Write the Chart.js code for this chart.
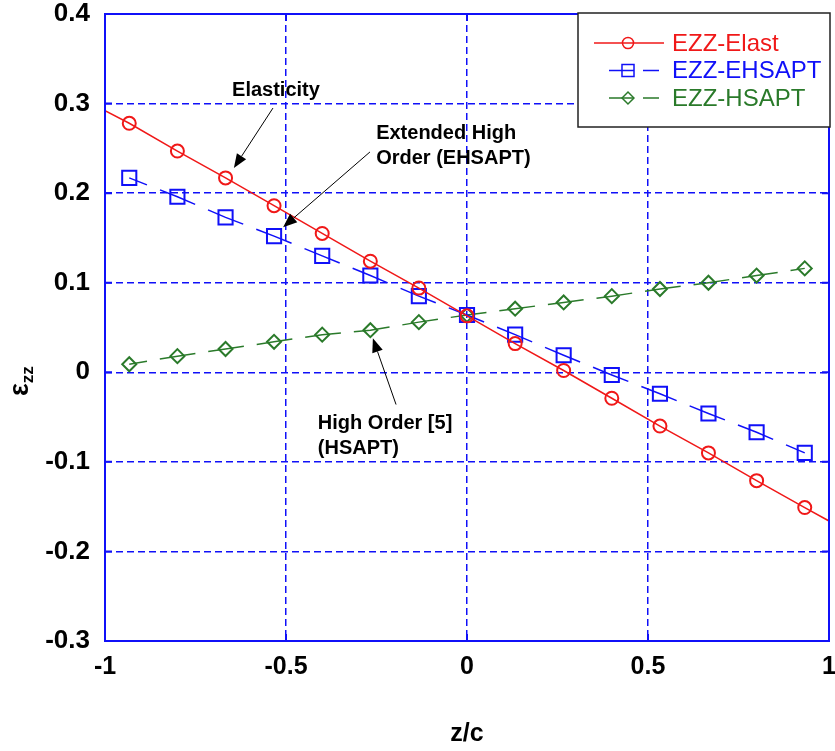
<!DOCTYPE html>
<html>
<head>
<meta charset="utf-8">
<script src="https://cdn.jsdelivr.net/npm/chart.js@4.4.0/dist/chart.umd.min.js"></script>
<style>
  html, body { margin: 0; padding: 0; background: #fff; }
  #wrap { width: 835px; height: 751px; }
</style>
</head>
<body>
<div id="wrap"><canvas id="chart" width="835" height="751"></canvas></div>
<script>
// eps_zz through the thickness, three theories
const zc = [-0.933, -0.8, -0.667, -0.533, -0.4, -0.267, -0.133, 0, 0.133, 0.267, 0.4, 0.533, 0.667, 0.8, 0.933];
const elast = [0.278, 0.247, 0.217, 0.186, 0.155, 0.124, 0.094, 0.063, 0.032, 0.002, -0.029, -0.060, -0.090, -0.121, -0.151];
const ehsapt = [0.217, 0.196, 0.173, 0.152, 0.130, 0.108, 0.085, 0.064, 0.042, 0.019, -0.003, -0.024, -0.046, -0.067, -0.090];
const hsapt = [0.009, 0.018, 0.026, 0.034, 0.042, 0.047, 0.056, 0.064, 0.071, 0.078, 0.085, 0.093, 0.100, 0.108, 0.116];

// the elasticity line runs on to both faces (no marker there)
const faceZ = [-1, 1];
const elastFace = [0.292, -0.166];

const seriesNames = ['EZZ-Elast', 'EZZ-EHSAPT', 'EZZ-HSAPT'];

const xTicks = [-1, -0.5, 0, 0.5, 1];
const yTicks = [-0.3, -0.2, -0.1, 0, 0.1, 0.2, 0.3, 0.4];

// callouts, placed in data units
const notes = [
  { lines: ['Elasticity'], at: [-0.649, 0.315], from: [-0.536, 0.295], to: [-0.644, 0.228] },
  { lines: ['Extended High', 'Order (EHSAPT)'], at: [-0.251, 0.267], from: [-0.268, 0.246], to: [-0.508, 0.162] },
  { lines: ['High Order [5]', '(HSAPT)'], at: [-0.412, -0.057], from: [-0.196, -0.036], to: [-0.260, 0.038] }
];

const BLUE = '#1010f8';
const RED = '#f01818';
const GREEN = '#2a7a2a';
const FONT = '"Liberation Sans", Arial, sans-serif';

const pts = (xs, ys) => xs.map((v, i) => ({ x: v, y: ys[i] }));
const fmt = v => String(Number(v.toFixed(1)));

const redData = [{ x: faceZ[0], y: elastFace[0] }, ...pts(zc, elast), { x: faceZ[1], y: elastFace[1] }];

const styles = [
  { color: RED, point: 'circle', radius: 6.5, dash: [] },
  { color: BLUE, point: 'rect', radius: 10, dash: [38, 14], dashOffset: 19 },
  { color: GREEN, point: 'rectRot', radius: 7, dash: [36, 13], dashOffset: 18 }
];

function marker(ctx, style, x, y) {
  const r = style.radius;
  ctx.beginPath();
  if (style.point === 'circle') {
    ctx.arc(x, y, r, 0, Math.PI * 2);
  } else if (style.point === 'rect') {
    const s = r * Math.SQRT1_2;
    ctx.rect(x - s, y - s, 2 * s, 2 * s);
  } else {
    ctx.moveTo(x - r, y); ctx.lineTo(x, y - r); ctx.lineTo(x + r, y); ctx.lineTo(x, y + r); ctx.closePath();
  }
  ctx.stroke();
}

const decor = {
  id: 'decor',
  afterDraw(chart) {
    const { ctx, chartArea: a, scales: { x, y } } = chart;
    ctx.save();

    // frame + inward ticks
    ctx.strokeStyle = BLUE;
    ctx.lineWidth = 2;
    ctx.setLineDash([]);
    ctx.beginPath();
    xTicks.forEach(v => {
      const px = x.getPixelForValue(v);
      ctx.moveTo(px, a.bottom); ctx.lineTo(px, a.bottom - 7);
      ctx.moveTo(px, a.top); ctx.lineTo(px, a.top + 7);
    });
    yTicks.forEach(v => {
      const py = y.getPixelForValue(v);
      ctx.moveTo(a.left, py); ctx.lineTo(a.left + 7, py);
      ctx.moveTo(a.right, py); ctx.lineTo(a.right - 7, py);
    });
    ctx.stroke();
    ctx.strokeRect(a.left, a.top, a.right - a.left, a.bottom - a.top);

    // callouts
    ctx.fillStyle = '#000';
    ctx.strokeStyle = '#000';
    ctx.lineWidth = 1;
    ctx.font = 'bold 20px ' + FONT;
    ctx.textAlign = 'left';
    ctx.textBaseline = 'middle';
    notes.forEach(n => {
      const tx = x.getPixelForValue(n.at[0]);
      const ty = y.getPixelForValue(n.at[1]);
      n.lines.forEach((l, i) => ctx.fillText(l, tx, ty + i * 25));
      const x1 = x.getPixelForValue(n.from[0]), y1 = y.getPixelForValue(n.from[1]);
      const x2 = x.getPixelForValue(n.to[0]), y2 = y.getPixelForValue(n.to[1]);
      const ang = Math.atan2(y2 - y1, x2 - x1);
      const hl = 14, hw = 5.5;
      ctx.beginPath();
      ctx.moveTo(x1, y1);
      ctx.lineTo(x2 - hl * Math.cos(ang), y2 - hl * Math.sin(ang));
      ctx.stroke();
      ctx.beginPath();
      ctx.moveTo(x2, y2);
      ctx.lineTo(x2 - hl * Math.cos(ang) + hw * Math.sin(ang), y2 - hl * Math.sin(ang) - hw * Math.cos(ang));
      ctx.lineTo(x2 - hl * Math.cos(ang) - hw * Math.sin(ang), y2 - hl * Math.sin(ang) + hw * Math.cos(ang));
      ctx.closePath();
      ctx.fill();
    });

    // legend box
    const bx = a.right - 251, by = a.top - 1, bw = 252, bh = 114;
    ctx.fillStyle = '#fff';
    ctx.fillRect(bx, by, bw, bh);
    ctx.strokeStyle = '#222';
    ctx.lineWidth = 1.5;
    ctx.strokeRect(bx, by, bw, bh);
    ctx.font = '24px ' + FONT;
    seriesNames.forEach((name, i) => {
      const st = styles[i];
      const ry = by + 30 + i * 27.5;
      ctx.strokeStyle = st.color;
      ctx.lineWidth = 1.5;
      ctx.beginPath();
      if (st.dash.length) {
        ctx.moveTo(bx + 31, ry); ctx.lineTo(bx + 56, ry);
        ctx.moveTo(bx + 65, ry); ctx.lineTo(bx + 81, ry);
      } else {
        ctx.moveTo(bx + 16, ry); ctx.lineTo(bx + 86, ry);
      }
      ctx.stroke();
      marker(ctx, Object.assign({}, st, { radius: st.radius * 0.85 }), bx + 50, ry);
      ctx.fillStyle = st.color;
      ctx.fillText(name, bx + 94, ry + 1);
    });

    // y title: eps with zz subscript, rotated
    ctx.save();
    ctx.translate(21, 396);
    ctx.rotate(-Math.PI / 2);
    ctx.fillStyle = '#000';
    ctx.font = 'bold 27px ' + FONT;
    ctx.fillText('\u03b5', 0, 0);
    const w = ctx.measureText('\u03b5').width;
    ctx.font = 'bold 17px ' + FONT;
    ctx.fillText('zz', w, 7);
    ctx.restore();

    ctx.restore();
  }
};

new Chart(document.getElementById('chart'), {
  type: 'scatter',
  data: {
    datasets: [
      { label: seriesNames[0], data: redData },
      { label: seriesNames[1], data: pts(zc, ehsapt) },
      { label: seriesNames[2], data: pts(zc, hsapt) }
    ].map((d, i) => {
      const st = styles[i];
      return Object.assign(d, {
        showLine: true,
        borderColor: st.color,
        borderWidth: 1.5,
        borderDash: st.dash,
        borderDashOffset: st.dashOffset || 0,
        pointStyle: st.point,
        pointRadius: i === 0 ? (c => (c.dataIndex === 0 || c.dataIndex === redData.length - 1) ? 0 : st.radius) : st.radius,
        pointBorderColor: st.color,
        pointBackgroundColor: 'rgba(0,0,0,0)',
        pointBorderWidth: 2,
        tension: 0
      });
    })
  },
  options: {
    responsive: false,
    animation: false,
    layout: { autoPadding: false, padding: { left: 0, right: 6, top: 14, bottom: 0 } },
    plugins: { legend: { display: false }, tooltip: { enabled: false } },
    scales: {
      x: {
        type: 'linear',
        min: -1, max: 1,
        afterBuildTicks: s => { s.ticks = xTicks.map(v => ({ value: v })); },
        afterFit: s => { s.height = 110; s.paddingLeft = 0; s.paddingRight = 0; },
        ticks: { color: '#000', font: { family: FONT, size: 25, weight: 'bold' }, padding: 11, callback: fmt, maxRotation: 0 },
        grid: { color: BLUE, lineWidth: 1.5, drawTicks: false },
        border: { display: false, dash: [7, 4] },
        title: { display: true, text: 'z/c', color: '#000', font: { family: FONT, size: 25, weight: 'bold' }, padding: { top: 0, bottom: 2 } }
      },
      y: {
        type: 'linear',
        min: -0.3, max: 0.4,
        afterBuildTicks: s => { s.ticks = yTicks.map(v => ({ value: v })); },
        afterFit: s => { s.width = 105; s.paddingTop = 0; s.paddingBottom = 0; },
        ticks: { color: '#000', font: { family: FONT, size: 26, weight: 'bold' }, padding: 15, callback: fmt },
        grid: { color: BLUE, lineWidth: 1.5, drawTicks: false },
        border: { display: false, dash: [7, 4] }
      }
    }
  },
  plugins: [decor]
});
</script>
</body>
</html>
